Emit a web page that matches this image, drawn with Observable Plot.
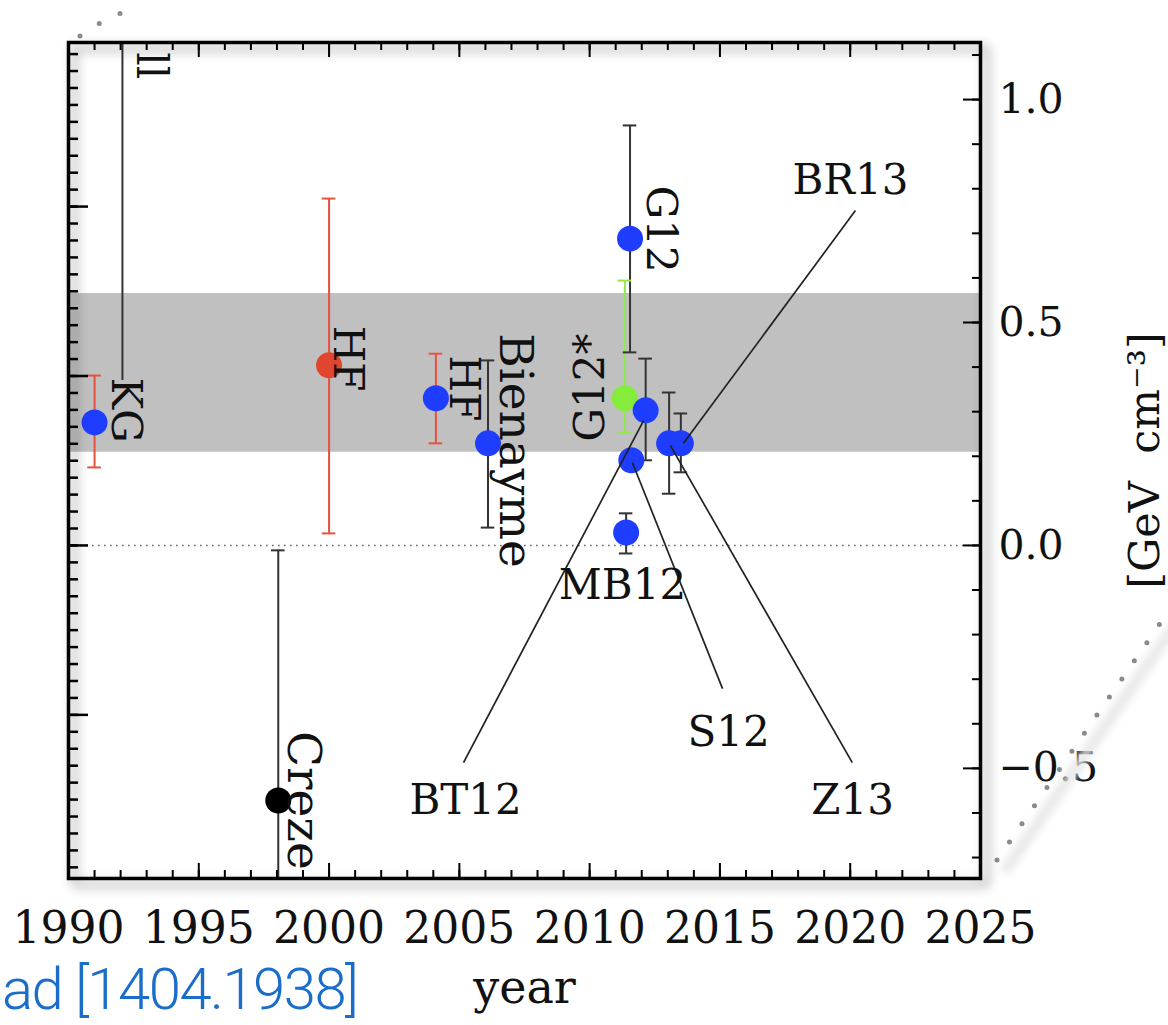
<!DOCTYPE html>
<html><head><meta charset="utf-8">
<script src="https://cdn.jsdelivr.net/npm/d3@7"></script>
<script src="https://cdn.jsdelivr.net/npm/@observablehq/plot@0.6"></script>
<style>
body{margin:0;background:#fff;}
#wrap{position:relative;width:1168px;height:1025px;overflow:hidden;background:#fff;}
#caption{position:absolute;left:2px;top:960px;line-height:1;font-family:Roboto,"Liberation Sans",sans-serif;font-weight:300;font-size:58px;letter-spacing:-1.5px;color:#1a6dc8;white-space:nowrap;}
#deco{position:absolute;left:0;top:0;pointer-events:none;}
</style></head>
<body>
<div id="wrap">
<div id="chart"></div>
<svg id="deco" width="1168" height="1025">
  <defs><filter id="blurDeco"><feGaussianBlur stdDeviation="4"/></filter></defs>
  <path d="M1004,872 L1175,625" stroke="#e6e6e6" stroke-width="10" fill="none" filter="url(#blurDeco)"/>
  <path d="M997,860 L1168,612" stroke="#8a8a8a" stroke-width="5" stroke-linecap="round" stroke-dasharray="0 22" fill="none"/>
  <path d="M80,36 Q100,21 124,12" stroke="#8a8a8a" stroke-width="5" stroke-linecap="round" stroke-dasharray="0 23" fill="none"/>
</svg>
<div id="caption">ad [1404.1938]</div>
</div>
<script>
// ---- scales / ticks ----
const xDomain = [1990, 2025];
const yDomain = [-0.747, 1.128];
const majorYears = [1990, 1995, 2000, 2005, 2010, 2015, 2020, 2025];
const minorYears = d3.range(1991, 2025);
const rhoTickLabels = [-0.5, 0.0, 0.5, 1.0];
const rhoMinor = d3.range(-7, 12).map(k => k / 10);
const msunToGeV = 38.0; // 1 Msun/pc^3 in GeV/cm^3 (left, unlabeled axis)
const msunMinor = d3.range(-19, 30).map(k => k * 0.001 * msunToGeV);
const msunMajor = [-0.01, 0, 0.01, 0.02].map(v => v * msunToGeV);

// ---- measurements ----
const names    = ["KG", "HF", "HF", "Bienayme", "G12", "G12*", "BT12", "S12", "MB12", "Z13", "BR13", "Creze"];
const years    = [1991.0, 2000.0, 2004.1, 2006.1, 2011.55, 2011.35, 2012.15, 2011.6, 2011.4, 2013.05, 2013.5, 1998.05];
const rho      = [0.276, 0.404, 0.330, 0.229, 0.688, 0.330, 0.303, 0.191, 0.029, 0.229, 0.229, -0.572];
const rhoLow   = [0.175, 0.027, 0.229, 0.040, 0.433, 0.253, 0.191, null, -0.018, 0.116, 0.164, -1.13];
const rhoHigh  = [0.381, 0.778, 0.430, 0.415, 0.942, 0.594, 0.419, null, 0.072, 0.343, 0.296, -0.011];
const dotColor = ["#1f3dff", "#e2452f", "#1f3dff", "#1f3dff", "#1f3dff", "#86ec3c", "#1f3dff", "#1f3dff", "#1f3dff", "#1f3dff", "#1f3dff", "#000000"];
const barColor = ["#e8503f", "#e8503f", "#e8503f", "#333333", "#333333", "#92e84e", "#333333", null, "#333333", "#333333", "#333333", "#333333"];

// off-chart measurement (only its lower error bar enters the frame)
const offYear = [1992.07];
const offLow  = [0.37];

// shaded band
const bandLow = 0.209, bandHigh = 0.565;

// ---- annotations (data coordinates) ----
const labelText = ["KG", "HF", "HF", "Bienayme", "G12", "G12*", "MB12", "S12", "Z13", "BT12", "BR13", "Creze", "ll"];
const labelX    = [1992.19, 2000.71, 2005.16, 2007.15, 2012.72, 2010.03, 2011.26, 2015.33, 2020.09, 2005.24, 2020.01, 1999.02, 1993.15];
const labelY    = [0.303, 0.419, 0.352, 0.213, 0.709, 0.354, -0.090, -0.419, -0.572, -0.572, 0.818, -0.572, 1.076];
const labelRot  = [90, 90, 90, 90, 90, -90, 0, 0, 0, 0, 0, 90, 90];

const leaderFromX = [2005.16, 2015.10, 2020.08, 2020.20];
const leaderFromY = [-0.487, -0.321, -0.487, 0.751];
const leaderToX   = [2012.07, 2011.64, 2013.10, 2013.60];
const leaderToY   = [0.280, 0.186, 0.224, 0.229];

// ---- tables ----
const pts = names.map((n, i) => ({name: n, year: years[i], rho: rho[i], lo: rhoLow[i], hi: rhoHigh[i], dot: dotColor[i], bar: barColor[i]}));
const bars = pts.filter(d => d.lo != null);
const capHalf = 0.26;
const caps = bars.flatMap(d => [{year: d.year, v: d.lo, c: d.bar}, {year: d.year, v: d.hi, c: d.bar}])
  .filter(d => d.v >= yDomain[0] && d.v <= yDomain[1]);
const off = offYear.map((y, i) => ({year: y, lo: offLow[i], hi: yDomain[1]}));
const band = [{x1: xDomain[0], x2: xDomain[1], lo: bandLow, hi: bandHigh}];
const labels = labelText.map((t, i) => ({t, x: labelX[i], y: labelY[i], r: labelRot[i]}));
const wordLabels = labels.filter(d => /[a-z]{3}/.test(d.t));
const codeLabels = labels.filter(d => !/[a-z]{3}/.test(d.t));
const leaders = leaderFromX.map((x, i) => ({x1: x, y1: leaderFromY[i], x2: leaderToX[i], y2: leaderToY[i]}));

const W = 1168, H = 1025, mL = 68, mR = 188, mT = 42, mB = 147;
const iW = W - mL - mR, iH = H - mT - mB;
const serif = "'DejaVu Serif', serif";

const chart = Plot.plot({
  width: W, height: H,
  marginLeft: mL, marginRight: mR, marginTop: mT, marginBottom: mB,
  x: {domain: xDomain},
  y: {domain: yDomain},
  color: {type: "identity"},
  style: {fontFamily: serif, background: "transparent", color: "#111"},
  marks: [
    Plot.rect(band, {x1: "x1", x2: "x2", y1: "lo", y2: "hi", fill: "#c0c0c0"}),
    Plot.ruleY([0], {stroke: "#666", strokeWidth: 1.6, strokeDasharray: "1.6 4.4"}),
    Plot.ruleX(off, {x: "year", y1: "lo", y2: "hi", stroke: "#333", strokeWidth: 2, clip: true}),
    Plot.ruleX(bars, {x: "year", y1: "lo", y2: "hi", stroke: "bar", strokeWidth: 2, clip: true}),
    Plot.ruleY(caps, {y: "v", x1: d => d.year - capHalf, x2: d => d.year + capHalf, stroke: "c", strokeWidth: 2}),
    Plot.dot(pts, {x: "year", y: "rho", r: 13, fill: "dot"}),
    Plot.link(leaders, {x1: "x1", y1: "y1", x2: "x2", y2: "y2", stroke: "#222", strokeWidth: 1.7}),
    Plot.text(codeLabels, {x: "x", y: "y", text: "t", rotate: "r", fontSize: 42, fill: "#111"}),
    Plot.text(wordLabels, {x: "x", y: "y", text: "t", rotate: "r", fontSize: 47, fill: "#111"}),
    Plot.frame({stroke: "#000", strokeWidth: 3.5}),
    // inward ticks
    Plot.ruleX(minorYears, {insetTop: iH - 8, stroke: "#000", strokeWidth: 2}),
    Plot.ruleX(majorYears, {insetTop: iH - 15, stroke: "#000", strokeWidth: 2}),
    Plot.ruleX(minorYears, {insetBottom: iH - 8, stroke: "#000", strokeWidth: 2}),
    Plot.ruleX(majorYears, {insetBottom: iH - 15, stroke: "#000", strokeWidth: 2}),
    Plot.ruleY(rhoMinor, {insetLeft: iW - 8, stroke: "#000", strokeWidth: 2}),
    Plot.ruleY(rhoTickLabels, {insetLeft: iW - 17, stroke: "#000", strokeWidth: 2}),
    Plot.ruleY(msunMinor, {insetRight: iW - 10, stroke: "#000", strokeWidth: 2.5}),
    Plot.ruleY(msunMajor, {insetRight: iW - 20, stroke: "#000", strokeWidth: 2.5}),
    // axes
    Plot.axisX({anchor: "bottom", ticks: majorYears, tickSize: 0, tickPadding: 33, tickFormat: d => String(d), fontSize: 44, label: null}),
    Plot.axisY({anchor: "right", ticks: rhoTickLabels, tickSize: 0, tickPadding: 18,
      tickFormat: d => (d < 0 ? "\u2212" : "") + Math.abs(d).toFixed(1), fontSize: 41, label: null}),
    Plot.text(["year"], {frameAnchor: "bottom", dy: 110, lineAnchor: "middle", fontSize: 46, fill: "#111"}),
    Plot.text(["[GeV  cm\u207B\u00B3]"], {frameAnchor: "right", dx: 165, rotate: -90, textAnchor: "middle", lineAnchor: "middle", fontSize: 43, fill: "#111"})
  ]
});

// frame shadow
const sel = d3.select(chart);
const defs = sel.insert("defs", ":first-child");
const f = defs.append("filter").attr("id", "frameShadow")
  .attr("x", "-10%").attr("y", "-10%").attr("width", "120%").attr("height", "120%");
f.append("feDropShadow").attr("dx", 6).attr("dy", 6).attr("stdDeviation", 6)
  .attr("flood-color", "#000").attr("flood-opacity", 0.45);
const frameEl = chart.querySelector('[aria-label="frame"]');
if (frameEl) frameEl.setAttribute("filter", "url(#frameShadow)");

document.getElementById("chart").appendChild(chart);
</script>
</body></html>
